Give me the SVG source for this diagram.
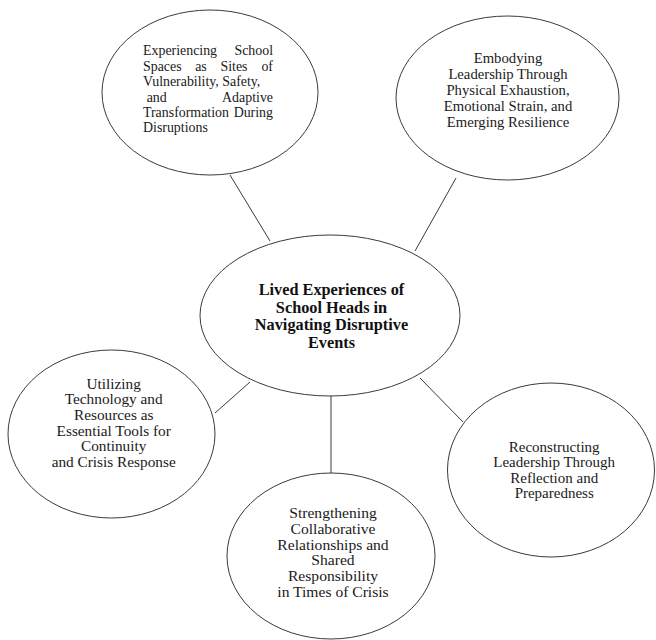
<svg xmlns="http://www.w3.org/2000/svg" width="656" height="640" viewBox="0 0 656 640">
<style>
.n{fill:#fff;stroke:#3a3a3a;stroke-width:1}
.t{font-family:"Liberation Serif","Times New Roman",serif;fill:#1a1a1a;text-anchor:middle}
.j{font-family:"Liberation Serif","Times New Roman",serif;font-size:13.9px;fill:#1a1a1a}
.b{font-family:"Liberation Serif","Times New Roman",serif;font-size:16.3px;font-weight:bold;fill:#111;text-anchor:middle}
.c{stroke:#3a3a3a;stroke-width:1;fill:none}
</style>
<rect width="656" height="640" fill="#fff"/>
<g id="connectors">
<line class="c" x1="230" y1="175" x2="270" y2="241"/>
<line class="c" x1="456" y1="178" x2="415" y2="251"/>
<line class="c" x1="215" y1="413" x2="250" y2="382"/>
<line class="c" x1="420" y1="378" x2="463" y2="422"/>
<line class="c" x1="331" y1="396" x2="331" y2="473"/>
</g>
<g id="center">
<ellipse class="n" cx="330" cy="315.5" rx="130" ry="80.5"/>
<text class="b" x="331.5" y="295">Lived Experiences of</text>
<text class="b" x="331.5" y="312.7">School Heads in</text>
<text class="b" x="331.5" y="330.4">Navigating Disruptive</text>
<text class="b" x="331.5" y="348.1">Events</text>
</g>
<g id="n1">
<ellipse class="n" cx="210" cy="92.5" rx="108" ry="82.5"/>
<text class="j" x="143" y="55">Experiencing</text>
<text class="j" x="273" y="55" text-anchor="end">School</text>
<text class="j" x="143" y="70.5">Spaces</text>
<text class="j" x="201" y="70.5" text-anchor="middle">as</text>
<text class="j" x="234" y="70.5" text-anchor="middle">Sites</text>
<text class="j" x="273" y="70.5" text-anchor="end">of</text>
<text class="j" x="143" y="86">Vulnerability, Safety,</text>
<text class="j" x="146.7" y="101.5">and</text>
<text class="j" x="273" y="101.5" text-anchor="end">Adaptive</text>
<text class="j" x="143" y="117">Transformation</text>
<text class="j" x="273" y="117" text-anchor="end">During</text>
<text class="j" x="143" y="132">Disruptions</text>
</g>
<g id="n2" font-size="14.7">
<ellipse class="n" cx="507.5" cy="98" rx="111.5" ry="82"/>
<text class="t" x="508" y="63.3">Embodying</text>
<text class="t" x="508" y="79.1">Leadership Through</text>
<text class="t" x="508" y="94.9">Physical Exhaustion,</text>
<text class="t" x="508" y="110.7">Emotional Strain, and</text>
<text class="t" x="508" y="126.5">Emerging Resilience</text>
</g>
<g id="n3" font-size="15.3">
<ellipse class="n" cx="111.5" cy="434" rx="103.5" ry="84"/>
<text class="t" x="113.7" y="388.5">Utilizing</text>
<text class="t" x="113.7" y="404.2">Technology and</text>
<text class="t" x="113.7" y="419.9">Resources as</text>
<text class="t" x="113.7" y="435.6">Essential Tools for</text>
<text class="t" x="113.7" y="451.3">Continuity</text>
<text class="t" x="113.7" y="467">and Crisis Response</text>
</g>
<g id="n4" font-size="15">
<ellipse class="n" cx="551" cy="470" rx="103.5" ry="87"/>
<text class="t" x="554.2" y="451.5">Reconstructing</text>
<text class="t" x="554.2" y="467.1">Leadership Through</text>
<text class="t" x="554.2" y="482.7">Reflection and</text>
<text class="t" x="554.2" y="498.3">Preparedness</text>
</g>
<g id="n5" font-size="15.6">
<ellipse class="n" cx="331" cy="556" rx="104" ry="83"/>
<text class="t" x="333" y="518.3">Strengthening</text>
<text class="t" x="333" y="534">Collaborative</text>
<text class="t" x="333" y="549.7">Relationships and</text>
<text class="t" x="333" y="565.4">Shared</text>
<text class="t" x="333" y="581.1">Responsibility</text>
<text class="t" x="333" y="596.8">in Times of Crisis</text>
</g>
</svg>
